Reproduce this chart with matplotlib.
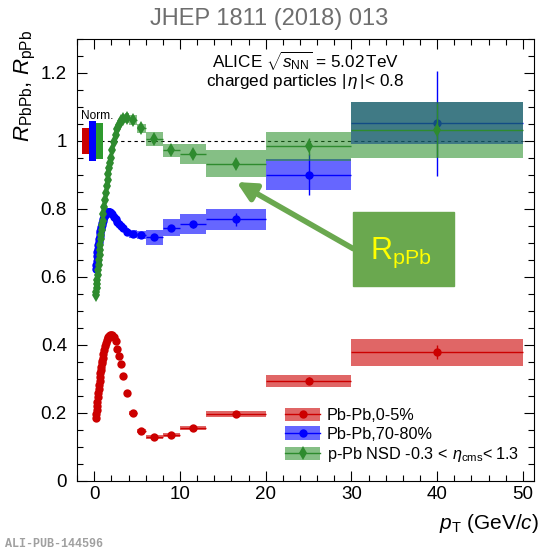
import numpy as np
import matplotlib.pyplot as plt
from matplotlib.patches import Rectangle
from matplotlib.lines import Line2D
from matplotlib.ticker import MultipleLocator, FormatStrFormatter

plt.rcParams['font.family'] = ['Liberation Sans', 'DejaVu Sans']
plt.rcParams['mathtext.fontset'] = 'custom'
plt.rcParams['mathtext.rm'] = 'Liberation Sans'
plt.rcParams['mathtext.it'] = 'Liberation Sans:italic'
plt.rcParams['mathtext.bf'] = 'Liberation Sans:bold'

# pT bin edges (GeV/c)
pt_edges = [0.15, 0.2, 0.25, 0.3, 0.35, 0.4, 0.45, 0.5, 0.55, 0.6, 0.65, 0.7,
            0.75, 0.8, 0.85, 0.9, 0.95, 1.0, 1.1, 1.2, 1.3, 1.4, 1.5, 1.6,
            1.7, 1.8, 1.9, 2.0, 2.2, 2.4, 2.6, 2.8, 3.0, 3.2, 3.6, 4.0,
            5.0, 6.0, 8.0, 10.0, 13.0, 20.0, 30.0, 50.0]

# Pb-Pb 0-5%
raa_central = [0.185, 0.195, 0.207, 0.220, 0.232, 0.245, 0.258, 0.270, 0.282,
               0.294, 0.305, 0.316, 0.326, 0.336, 0.345, 0.353, 0.361,
               0.372, 0.385, 0.396, 0.405, 0.413, 0.419, 0.424, 0.427, 0.429, 0.430,
               0.429, 0.424, 0.412, 0.388, 0.366, 0.342, 0.308, 0.257,
               0.200, 0.146, 0.128, 0.135, 0.155, 0.196, 0.294, 0.378]
# Pb-Pb 70-80%
raa_periph = [0.622, 0.635, 0.648, 0.660, 0.672, 0.683, 0.693, 0.703, 0.712,
              0.720, 0.728, 0.735, 0.742, 0.748, 0.754, 0.759, 0.764,
              0.770, 0.776, 0.781, 0.785, 0.788, 0.790, 0.791, 0.791, 0.790, 0.788,
              0.784, 0.777, 0.769, 0.762, 0.755, 0.750, 0.743, 0.733,
              0.727, 0.723, 0.717, 0.745, 0.755, 0.769, 0.901, 1.052]
# p-Pb NSD
rppb = [0.548, 0.556, 0.566, 0.578, 0.591, 0.605, 0.620, 0.635, 0.650,
        0.665, 0.680, 0.695, 0.710, 0.724, 0.738, 0.752, 0.765,
        0.784, 0.805, 0.826, 0.846, 0.866, 0.885, 0.903, 0.920, 0.936, 0.951,
        0.972, 0.996, 1.017, 1.035, 1.048, 1.058, 1.066, 1.068,
        1.062, 1.037, 1.006, 0.972, 0.962, 0.933, 0.984, 1.033]

# uncertainties of the six high-pT bins (6-8, 8-10, 10-13, 13-20, 20-30, 30-50)
central_stat_hi = [0.003, 0.004, 0.005, 0.006, 0.010, 0.020]
central_sys_hi = [0.006, 0.006, 0.007, 0.009, 0.018, 0.040]
periph_stat_hi = [0.006, 0.008, 0.010, 0.020, 0.060, 0.155]
periph_sys_hi = [0.022, 0.025, 0.030, 0.032, 0.046, 0.062]
ppb_stat_hi = [0.004, 0.005, 0.007, 0.012, 0.025, 0.080]
ppb_sys_hi = [0.020, 0.020, 0.030, 0.040, 0.043, 0.083]
# systematic at low pT (below 6 GeV/c)
central_sys_lo = 0.006
periph_sys_lo = 0.012
ppb_sys_lo = 0.014

# normalisation uncertainties
norm_unc = [0.038, 0.060, 0.053]

edges = np.array(pt_edges)
centers = (edges[:-1] + edges[1:]) / 2
widths = edges[1:] - edges[:-1]
n_lo = len(centers) - 6


def full(lo, hi):
    return np.concatenate([np.full(n_lo, lo), np.array(hi)])


series = [
    ('Pb-Pb,0-5%', raa_central, full(0.0, central_stat_hi), full(central_sys_lo, central_sys_hi),
     '#cc0000', '#cc0000', 0.6, 'o', 6.0),
    ('Pb-Pb,70-80%', raa_periph, full(0.0, periph_stat_hi), full(periph_sys_lo, periph_sys_hi),
     '#0000ff', '#0000ff', 0.6, 'o', 6.0),
    ('p-Pb NSD -0.3$\\,<\\,\\eta_{\\rm cms}\\!<$1.3', rppb, full(0.0, ppb_stat_hi), full(ppb_sys_lo, ppb_sys_hi),
     '#2e8b2e', '#228b22', 0.55, 'd', 7.5),
]

fig = plt.figure(figsize=(5.38, 5.5), dpi=100)
ax = fig.add_axes([76.7 / 538, (550 - 480.7) / 550, 457.3 / 538, 441.7 / 550])

ax.plot([0, 50], [1, 1], color='black', lw=0.8, ls=(0, (3, 3)), zorder=1)

handles = []
z = 2
for label, vals, stat, sys, col, boxcol, alpha, mk, ms in series:
    vals = np.array(vals)
    ax.bar(centers, 2 * sys, width=widths, bottom=vals - sys, color=boxcol,
           alpha=alpha, linewidth=0, zorder=z)
    ax.errorbar(centers, vals, xerr=widths / 2, yerr=stat, fmt=mk, color=col,
                ms=ms, mew=0, elinewidth=1, capsize=0, zorder=z + 1)
    handles.append((Rectangle((0, 0), 1, 1, color=boxcol, alpha=alpha, lw=0),
                    Line2D([], [], color=col, marker=mk, ms=ms, mew=0, lw=1)))
    z += 2

# normalisation boxes near pT = 0
norm_cols = ['#cc0000', '#0000ff', '#2e9a2e']
norm_left = [-1.47, -0.58, 0.16]
norm_w = [0.89, 0.74, 0.82]
for u, c, l, w in zip(norm_unc, norm_cols, norm_left, norm_w):
    ax.bar(l, 2 * u, width=w, bottom=1 - u, align='edge', color=c, lw=0, zorder=9)
ax.text(-1.6, 1.065, 'Norm.', fontsize=8.6, zorder=10)

ax.text(0.5, 0.95, 'ALICE $\\sqrt{s_{\\rm NN}}$ = 5.02$\\,$TeV', transform=ax.transAxes,
        ha='center', va='center', fontsize=12.3)
ax.text(0.5, 0.903, 'charged particles $|\\,\\eta\\,|$< 0.8', transform=ax.transAxes,
        ha='center', va='center', fontsize=12.3)

# R_pPb call-out
ax.annotate('', xy=(16.6, 0.879), xytext=(30.2, 0.683),
            arrowprops=dict(arrowstyle='-|>', lw=4, color='#6aa84f',
                            mutation_scale=28, shrinkA=0, shrinkB=0), zorder=12)
ax.add_patch(Rectangle((30.2, 0.572), 11.8, 0.22, color='#6aa84f', zorder=13))
ax.text(32.2, 0.652, '$\\mathregular{R_{pPb}}$', color='#ffff00', fontsize=22, zorder=14)

ax.legend(handles, [s[0] for s in series], loc='lower left', bbox_to_anchor=(0.43, 0.012),
          frameon=False, fontsize=11.7, handlelength=2.2, handleheight=0.9,
          labelspacing=0.2, handletextpad=0.4, borderpad=0.2)

ax.set_xlim(-2.05, 51.3)
ax.set_ylim(0, 1.3)
ax.xaxis.set_major_locator(MultipleLocator(10))
ax.xaxis.set_minor_locator(MultipleLocator(2))
ax.yaxis.set_major_locator(MultipleLocator(0.2))
ax.yaxis.set_minor_locator(MultipleLocator(0.05))
ax.yaxis.set_major_formatter(FormatStrFormatter('%g'))
ax.tick_params(which='both', direction='in', top=True, right=True, labelsize=13.5, width=0.8)
ax.tick_params(which='major', length=7)
ax.tick_params(which='minor', length=4)
ax.tick_params(axis='y', pad=7)
ax.tick_params(axis='x', pad=4)
for sp in ax.spines.values():
    sp.set_linewidth(0.8)

ax.set_ylabel('$R_{\\rm PbPb}$, $R_{\\rm pPb}$', fontsize=16, loc='top')
ax.yaxis.set_label_coords(-0.085, 1.02)
ax.set_xlabel('$p_{\\rm T}$ (GeV/$c$)', fontsize=15, loc='right')
ax.xaxis.set_label_coords(1.01, -0.07)

fig.text(0.5, 0.966, 'JHEP 1811 (2018) 013', ha='center', va='center', fontsize=17, color='#6e6e6e')
fig.text(0.01, 0.006, 'ALI-PUB-144596', fontsize=8.5, color='#a0a0a0', family='Liberation Mono',
         weight='bold')

fig.savefig('out.png', dpi=100)
